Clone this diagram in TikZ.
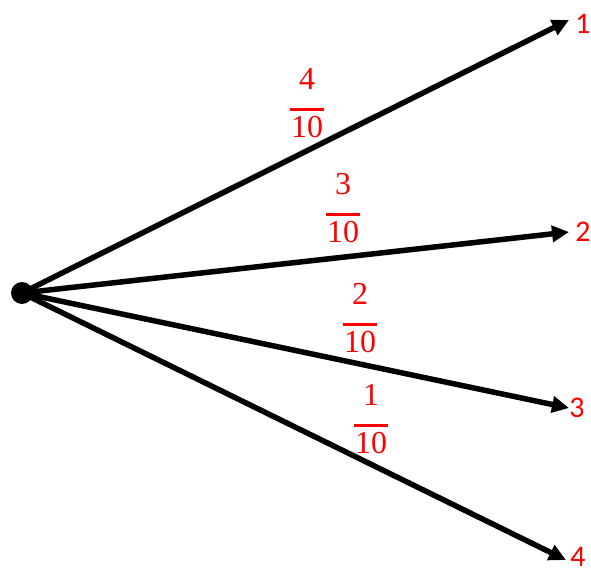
\documentclass[tikz,border=0pt]{standalone}
\usepackage{fontspec}
\newfontfamily\lblfont{Carlito}
\newfontfamily\fracfont{Liberation Serif}
\usetikzlibrary{arrows.meta}
\definecolor{lblred}{RGB}{255,0,0}
\tikzset{
  branch/.style={line width=5.5pt, -{Triangle[length=17pt,width=16pt]}},
  endlbl/.style={text=lblred, font=\lblfont\fontsize{30}{30}\selectfont, inner sep=0pt},
  fraclbl/.style={text=lblred, inner sep=0pt, font=\fracfont\fontsize{32}{32}\selectfont},
}
\newcommand{\myfrac}[2]{\begin{tabular}{@{}c@{}}#1\\[-5pt]\rule[5pt]{34pt}{3pt}\\[-11pt]#2\end{tabular}}
\begin{document}
\begin{tikzpicture}[x=1pt,y=-1pt]
\useasboundingbox (0,0) rectangle (591,577);
\fill (22,293) circle (11);
\coordinate (o) at (22,293);
\coordinate (t1) at (569,20);
\coordinate (t2) at (569,232);
\coordinate (t3) at (569,408);
\coordinate (t4) at (566,560);
\draw[branch] (o) -- (t1);
\draw[branch] (o) -- (t2);
\draw[branch] (o) -- (t3);
\draw[branch] (o) -- (t4);
\node[endlbl] (l1) at (583,24) {1};
\node[endlbl] (l2) at (583,232) {2};
\node[endlbl] (l3) at (577,408) {3};
\node[endlbl] (l4) at (578,557) {4};
\node[fraclbl] (f1) at (307,107) {\myfrac{4}{10}};
\node[fraclbl] (f2) at (343,212) {\myfrac{3}{10}};
\node[fraclbl] (f3) at (360,322) {\myfrac{2}{10}};
\node[fraclbl] (f4) at (371,423) {\myfrac{1}{10}};
\end{tikzpicture}
\end{document}
